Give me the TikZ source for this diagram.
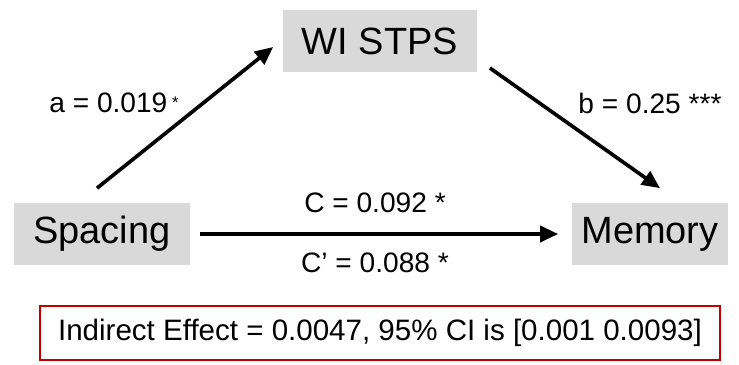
\documentclass[tikz,border=0pt]{standalone}
\usepackage{fontspec}
\setmainfont{Liberation Sans}
\usetikzlibrary{arrows.meta, positioning}
\definecolor{boxgray}{RGB}{217,217,217}
\definecolor{cired}{RGB}{192,0,0}
\tikzset{> = { Triangle[length = 4.5mm, width = 4mm] }}

\begin{document}
\begin{tikzpicture}[x = 0.025cm, y = 0.025cm, line width = 2.6pt,
		var/.style = { fill = boxgray, minimum height = 1.55cm, inner sep = 0pt, font = \fontsize{27}{30}\selectfont },
		coef/.style = { font = \fontsize{20}{24}\selectfont }]
		\useasboundingbox (0,0) rectangle (739,364);

		% the three variables
		\node [var, minimum width = 4.85cm] (wi)  at (380,323) {WI STPS};
		\node [var, minimum width = 4.4cm]  (sp)  at (102,130) {Spacing};
		\node [var, minimum width = 3.9cm]  (mem) at (650,130) {Memory};

		% paths
		\draw [->] ([shift = {(-5,13)}]sp.north) -- ([shift = {(-8,-6)}]wi.west);
		\draw [->] ([shift = {(11,-27)}]wi.east) -- ([shift = {(10,13)}]mem.north);
		\draw [->] ([xshift = 0.2cm]sp.east) -- ([xshift = -0.3cm]mem.west);

		\node [coef] (a)  at (114,261) {a = 0.019\,{\fontsize{12}{14}\selectfont\raisebox{3pt}{*}}};
		\node [coef] (b)  at (650,261) {b = 0.25 ***};
		\node [coef] (c)  at (375,161) {C = 0.092 *};
		\node [coef] (cp) at (375,101) {C’ = 0.088 *};

		% indirect effect
		\node [draw = cired, line width = 2pt, minimum width = 17cm, minimum height = 1.35cm, coef, font = \fontsize{21}{24}\selectfont] (ie) at (380,31)
			{Indirect Effect = 0.0047, 95\% CI is [0.001 0.0093]};
	\end{tikzpicture}
\end{document}
